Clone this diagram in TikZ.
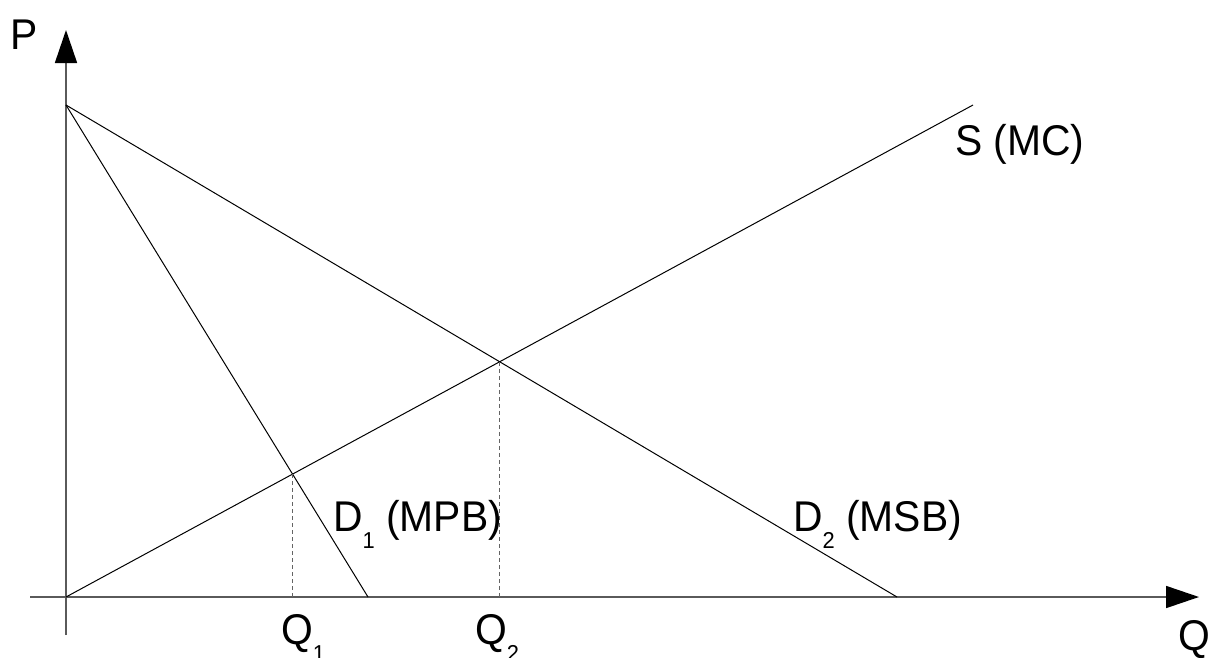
\documentclass[tikz,border=0pt]{standalone}
\usepackage{fontspec}
\setmainfont{Liberation Sans}[FakeStretch=0.95]
\usetikzlibrary{arrows.meta}
\newcommand{\lsub}[1]{\raisebox{-17pt}{\fontsize{23}{23}\selectfont #1}}
\begin{document}
\begin{tikzpicture}[x=1pt,y=-1pt,
  axis/.style={draw={rgb,255:red,90;green,90;blue,90},line width=1.6pt,
    -{Triangle[length=33pt,width=22pt,fill=black,color=black]}},
  curve/.style={draw=black,line width=1pt},
  guide/.style={draw={rgb,255:red,100;green,100;blue,100},line width=1pt,dash pattern=on 4pt off 3pt},
  lbl/.style={inner sep=0pt,anchor=base west,font=\fontsize{43}{43}\selectfont}]
\useasboundingbox (0,0) rectangle (1218,657);
% axis ends
\coordinate (ybot) at (66,635);
\coordinate (ytop) at (66,30);
\coordinate (xleft) at (30,597);
\coordinate (xright) at (1199,597);
% curve ends
\coordinate (O) at (66,597);
\coordinate (A) at (66,105);
\coordinate (D1end) at (368,597);
\coordinate (D2end) at (897,597);
\coordinate (Send) at (973,105);
% intersections
\coordinate (E1) at (intersection of A--D1end and O--Send);
\coordinate (E2) at (intersection of A--D2end and O--Send);
\coordinate (F1) at (E1 |- O);
\coordinate (F2) at (E2 |- O);
% axes
\draw[axis] (xleft) -- (xright);
\draw[axis] (ybot) -- (ytop);
% curves
\draw[curve] (A) -- (D1end);
\draw[curve] (A) -- (D2end);
\draw[curve] (O) -- (Send);
% guides
\draw[guide] (E1) -- (F1);
\draw[guide] (E2) -- (F2);
% labels
\node[lbl] (pl) at (10,49) {P};
\node[lbl] (ql) at (1178,650) {Q};
\node[lbl] (sl) at (955,155) {S (MC)};
\node[lbl] (d1l) at (333,531) {D\lsub{1} (MPB)};
\node[lbl] (d2l) at (793,531) {D\lsub{2} (MSB)};
\node[lbl] (q1l) at (281,644) {Q\lsub{1}};
\node[lbl] (q2l) at (475,644) {Q\lsub{2}};
\end{tikzpicture}
\end{document}
